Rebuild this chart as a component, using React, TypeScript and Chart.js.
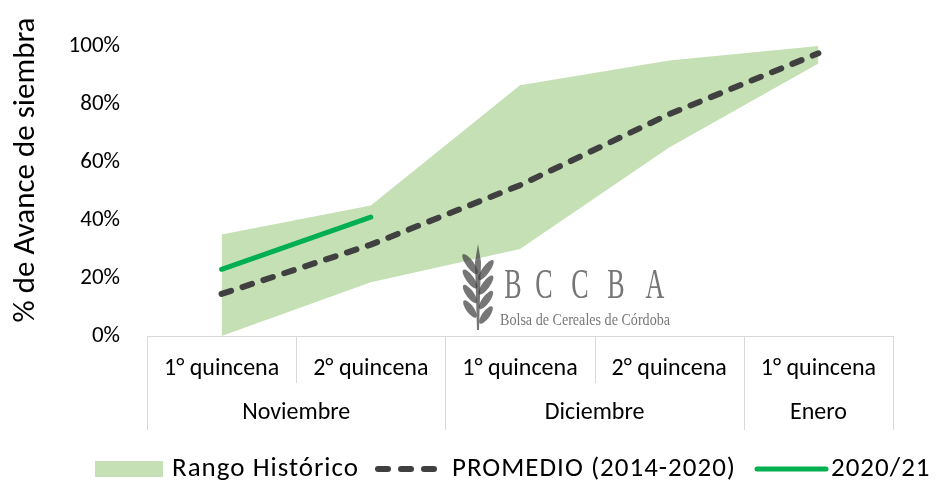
import React, { useEffect, useRef } from 'react';
import { Chart, registerables } from 'chart.js';

Chart.register(...registerables);

const categories = ['1° quincena', '2° quincena', '1° quincena', '2° quincena', '1° quincena'];
const months = ['Noviembre', 'Diciembre', 'Enero'];
const monthSpans = [2, 2, 1];
const rangeMax = [35, 45, 86.5, 95, 100];
const rangeMin = [0, 18.5, 30, 65, 94];
const promedio = [14.5, 31.5, 52, 76.5, 97.5];
const campaign = [23, 41, null, null, null];
const yMin = 0;
const yMax = 100;
const yStep = 20;
const yTitle = '% de Avance de siembra';
const legendLabels = ['Rango Histórico', 'PROMEDIO (2014-2020)', '2020/21'];

const FONT = 'Carlito, Calibri, Lato, "Open Sans", sans-serif';
const BAND = '#c5e0b4';
const AVG = '#404040';
const GREEN = '#00b050';
const AXIS_GRAY = '#d9d9d9';
const AVG_DASH = [10, 12];

const xAxisPlugin = {
  id: 'multiAxis',
  afterDraw(chart: any) {
    const { ctx, chartArea } = chart;
    const xs = chart.scales.x;
    const top = chartArea.bottom;
    const row1 = top + 47;
    const row2 = top + 94;
    const px = (v: number) => xs.getPixelForValue(v);
    ctx.save();
    ctx.strokeStyle = AXIS_GRAY;
    ctx.lineWidth = 1;
    ctx.beginPath();
    ctx.moveTo(Math.round(px(-0.5)), top + 0.5);
    ctx.lineTo(Math.round(px(categories.length - 0.5)), top + 0.5);
    ctx.stroke();
    const groupBounds = new Set<number>();
    let acc = 0;
    groupBounds.add(0);
    monthSpans.forEach((s) => { acc += s; groupBounds.add(acc); });
    for (let i = 0; i <= categories.length; i++) {
      const x = Math.round(px(i - 0.5)) + 0.5;
      ctx.beginPath();
      ctx.moveTo(x, top);
      ctx.lineTo(x, groupBounds.has(i) ? row2 : row1);
      ctx.stroke();
    }
    ctx.fillStyle = '#000';
    ctx.font = `24px ${FONT}`;
    ctx.textAlign = 'center';
    ctx.textBaseline = 'middle';
    categories.forEach((c, i) => ctx.fillText(c, px(i), top + 33));
    let start = 0;
    months.forEach((m, j) => {
      const mid = start + (monthSpans[j] - 1) / 2;
      ctx.fillText(m, px(mid), top + 77);
      start += monthSpans[j];
    });
    ctx.restore();
  },
};

const yTitlePlugin = {
  id: 'yTitle',
  afterDraw(chart: any) {
    const { ctx } = chart;
    ctx.save();
    ctx.translate(26, 170);
    ctx.rotate(-Math.PI / 2);
    ctx.font = `31px ${FONT}`;
    ctx.fillStyle = '#000';
    ctx.textAlign = 'center';
    ctx.textBaseline = 'middle';
    ctx.fillText(yTitle, 0, 0);
    ctx.restore();
  },
};

const legendPlugin = {
  id: 'customLegend',
  afterDraw(chart: any) {
    const { ctx } = chart;
    const cy = 469;
    ctx.save();
    ctx.font = `27px ${FONT}`;
    (ctx as any).letterSpacing = '1px';
    ctx.textBaseline = 'middle';
    ctx.textAlign = 'left';
    ctx.fillStyle = BAND;
    ctx.fillRect(95, cy - 8, 68, 16);
    ctx.fillStyle = '#000';
    ctx.fillText(legendLabels[0], 172, cy);
    ctx.strokeStyle = AVG;
    ctx.lineWidth = 6;
    ctx.lineCap = 'round';
    ctx.setLineDash([10, 13]);
    ctx.beginPath();
    ctx.moveTo(378, cy);
    ctx.lineTo(441, cy);
    ctx.stroke();
    ctx.setLineDash([]);
    ctx.fillText(legendLabels[1], 452, cy);
    ctx.strokeStyle = GREEN;
    ctx.lineWidth = 5;
    ctx.beginPath();
    ctx.moveTo(757, cy);
    ctx.lineTo(826, cy);
    ctx.stroke();
    ctx.fillText(legendLabels[2], 831, cy);
    ctx.restore();
  },
};

const watermarkPlugin = {
  id: 'watermark',
  afterDatasetsDraw(chart: any) {
    const { ctx } = chart;
    ctx.save();
    ctx.fillStyle = 'rgba(60,60,60,0.7)';
    const sx = 478;
    ctx.beginPath();
    ctx.moveTo(sx, 244);
    ctx.lineTo(sx + 3, 262);
    ctx.lineTo(sx + 1, 330);
    ctx.lineTo(sx - 1, 330);
    ctx.lineTo(sx - 3, 262);
    ctx.closePath();
    ctx.fill();
    const leaf = (cx: number, cy: number, ang: number, len: number) => {
      ctx.save();
      ctx.translate(cx, cy);
      ctx.rotate(ang);
      ctx.beginPath();
      ctx.ellipse(0, 0, len, 3.8, 0, 0, Math.PI * 2);
      ctx.fill();
      ctx.restore();
    };
    [268, 283, 298, 313].forEach((ly, i) => {
      leaf(sx - 8, ly - 4, Math.PI * 0.3, 12 - i * 0.5);
      leaf(sx + 8, ly + 2, -Math.PI * 0.3, 12 - i * 0.5);
    });
    const letters = ['B', 'C', 'C', 'B', 'A'];
    const centers = [513, 544, 580, 616, 655];
    ctx.font = '42px "Liberation Serif", "DejaVu Serif", serif';
    ctx.textAlign = 'center';
    ctx.textBaseline = 'alphabetic';
    letters.forEach((l, i) => {
      ctx.save();
      ctx.translate(centers[i], 298);
      ctx.scale(0.62, 1);
      ctx.fillText(l, 0, 0);
      ctx.restore();
    });
    const sub = 'Bolsa de Cereales de Córdoba';
    ctx.font = '17px "Liberation Serif", "DejaVu Serif", serif';
    ctx.textAlign = 'left';
    const w = ctx.measureText(sub).width;
    ctx.save();
    ctx.translate(500, 325);
    ctx.scale(170 / w, 1);
    ctx.fillText(sub, 0, 0);
    ctx.restore();
    ctx.restore();
  },
};

export default function App() {
  const canvasRef = useRef<HTMLCanvasElement | null>(null);

  useEffect(() => {
    document.body.style.margin = '0';
    document.body.style.overflow = 'hidden';
    const canvas = canvasRef.current;
    if (!canvas) return;
    const chart = new Chart(canvas, {
      type: 'line',
      data: {
        labels: categories,
        datasets: [
          {
            label: legendLabels[2],
            data: campaign,
            borderColor: GREEN,
            borderWidth: 5,
            borderCapStyle: 'round',
            pointRadius: 0,
            fill: false,
            spanGaps: false,
          },
          {
            label: legendLabels[1],
            data: promedio,
            borderColor: AVG,
            borderWidth: 6,
            borderDash: AVG_DASH,
            borderCapStyle: 'round',
            pointRadius: 0,
            fill: false,
          },
          {
            label: 'max',
            data: rangeMax,
            borderWidth: 0,
            borderColor: 'rgba(0,0,0,0)',
            backgroundColor: BAND,
            pointRadius: 0,
            fill: '+1',
          },
          {
            label: 'min',
            data: rangeMin,
            borderWidth: 0,
            borderColor: 'rgba(0,0,0,0)',
            backgroundColor: BAND,
            pointRadius: 0,
            fill: false,
          },
        ],
      } as any,
      options: {
        animation: false,
        responsive: true,
        maintainAspectRatio: false,
        layout: { padding: { top: 46, right: 47, bottom: 0, left: 0 } },
        plugins: {
          legend: { display: false },
          tooltip: { enabled: false },
        },
        scales: {
          x: {
            offset: true,
            grid: { display: false, drawTicks: false },
            border: { display: false },
            ticks: { display: false },
            afterFit: (s: any) => { s.height = 148; },
          },
          y: {
            min: yMin,
            max: yMax,
            grid: { display: false, drawTicks: false },
            border: { display: false },
            ticks: {
              stepSize: yStep,
              padding: 27,
              color: '#000',
              font: { family: FONT, size: 23 },
              callback: (v: any) => `${v}%`,
            },
            afterFit: (s: any) => { s.width = 147; },
          },
        },
      } as any,
      plugins: [xAxisPlugin, yTitlePlugin, legendPlugin, watermarkPlugin],
    });
    return () => chart.destroy();
  }, []);

  return (
    <div style={{ position: 'relative', width: 940, height: 484 }}>
      <canvas ref={canvasRef} />
    </div>
  );
}
